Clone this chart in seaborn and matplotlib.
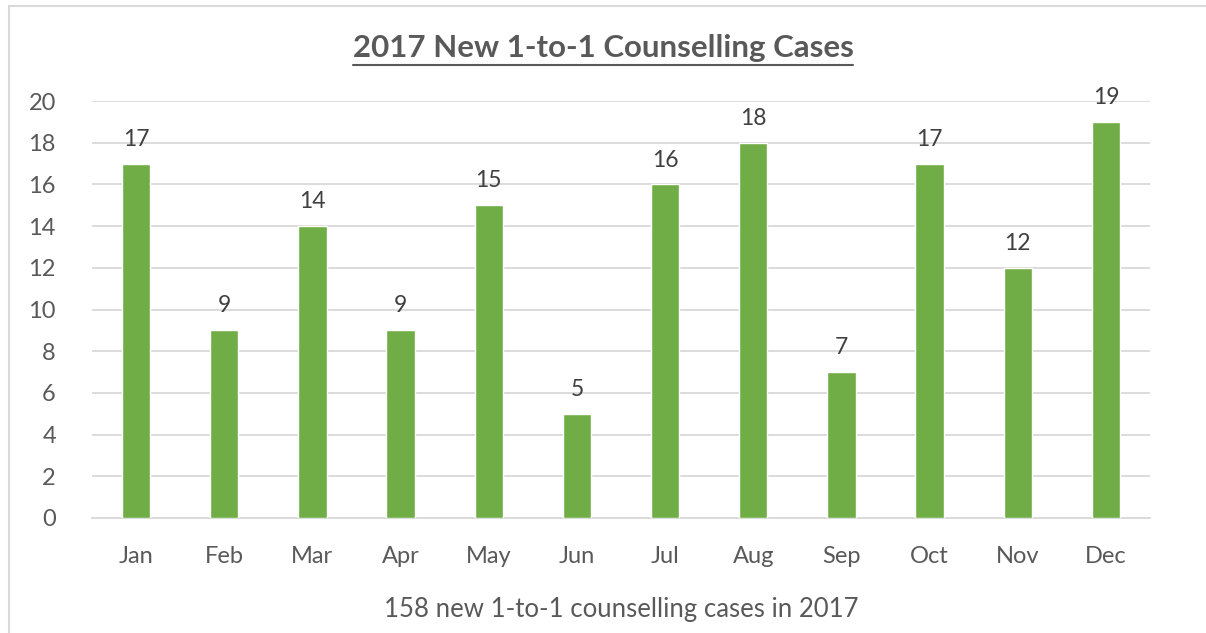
import matplotlib
matplotlib.use("Agg")
import matplotlib.pyplot as plt
import seaborn as sns
import pandas as pd
from matplotlib.patches import Rectangle

months = ["Jan", "Feb", "Mar", "Apr", "May", "Jun", "Jul", "Aug", "Sep", "Oct", "Nov", "Dec"]
cases = [17, 9, 14, 9, 15, 5, 16, 18, 7, 17, 12, 19]
title = "2017 New 1-to-1 Counselling Cases"
xlabel = "158 new 1-to-1 counselling cases in 2017"

sns.set_theme(style="white")
plt.rcParams['font.family'] = ['Lato', 'DejaVu Sans']

df = pd.DataFrame({"month": months, "cases": cases})

fig = plt.figure(figsize=(12.06, 6.33), dpi=100)
ax = fig.add_axes([92/1206, 1-518/633, (1150-92)/1206, (518-101)/633])

sns.barplot(data=df, x="month", y="cases", color="#70AD47", width=0.32,
            saturation=1, ax=ax, zorder=3)

ax.set_ylim(0, 20)
ax.set_yticks(range(0, 21, 2))
ax.yaxis.grid(True, color="#D9D9D9", linewidth=1.3, zorder=0)
ax.set_axisbelow(True)
for s in ["top", "right", "left"]:
    ax.spines[s].set_visible(False)
ax.spines["bottom"].set_color("#D9D9D9")
ax.spines["bottom"].set_linewidth(1.3)
ax.tick_params(axis="both", length=0, labelsize=17, labelcolor="#595959")
ax.tick_params(axis="y", pad=26)
ax.tick_params(axis="x", pad=20)
ax.set_ylabel("")
ax.set_xlabel(xlabel, fontsize=18.5, color="#595959", labelpad=22)

for c in ax.containers:
    ax.bar_label(c, padding=10, fontsize=16.5, color="#404040")

fig.text(0.5, 1-48/633, title, ha="center", va="center", fontsize=22.5,
         fontweight="bold", color="#595959")
# underline
t = fig.texts[-1]
fig.canvas.draw()
bb = t.get_window_extent()
y_ul = (bb.y0 - 3) / fig.bbox.height
fig.add_artist(plt.Line2D([bb.x0 / fig.bbox.width, bb.x1 / fig.bbox.width], [y_ul, y_ul],
                          color="#595959", linewidth=1.5, transform=fig.transFigure))

fig.add_artist(Rectangle((8.5/1206, -0.1), 1.2, 1.1 - 5.5/633, transform=fig.transFigure,
                         fill=False, edgecolor="#D9D9D9", linewidth=1.5))

fig.savefig("out.png", dpi=100)
